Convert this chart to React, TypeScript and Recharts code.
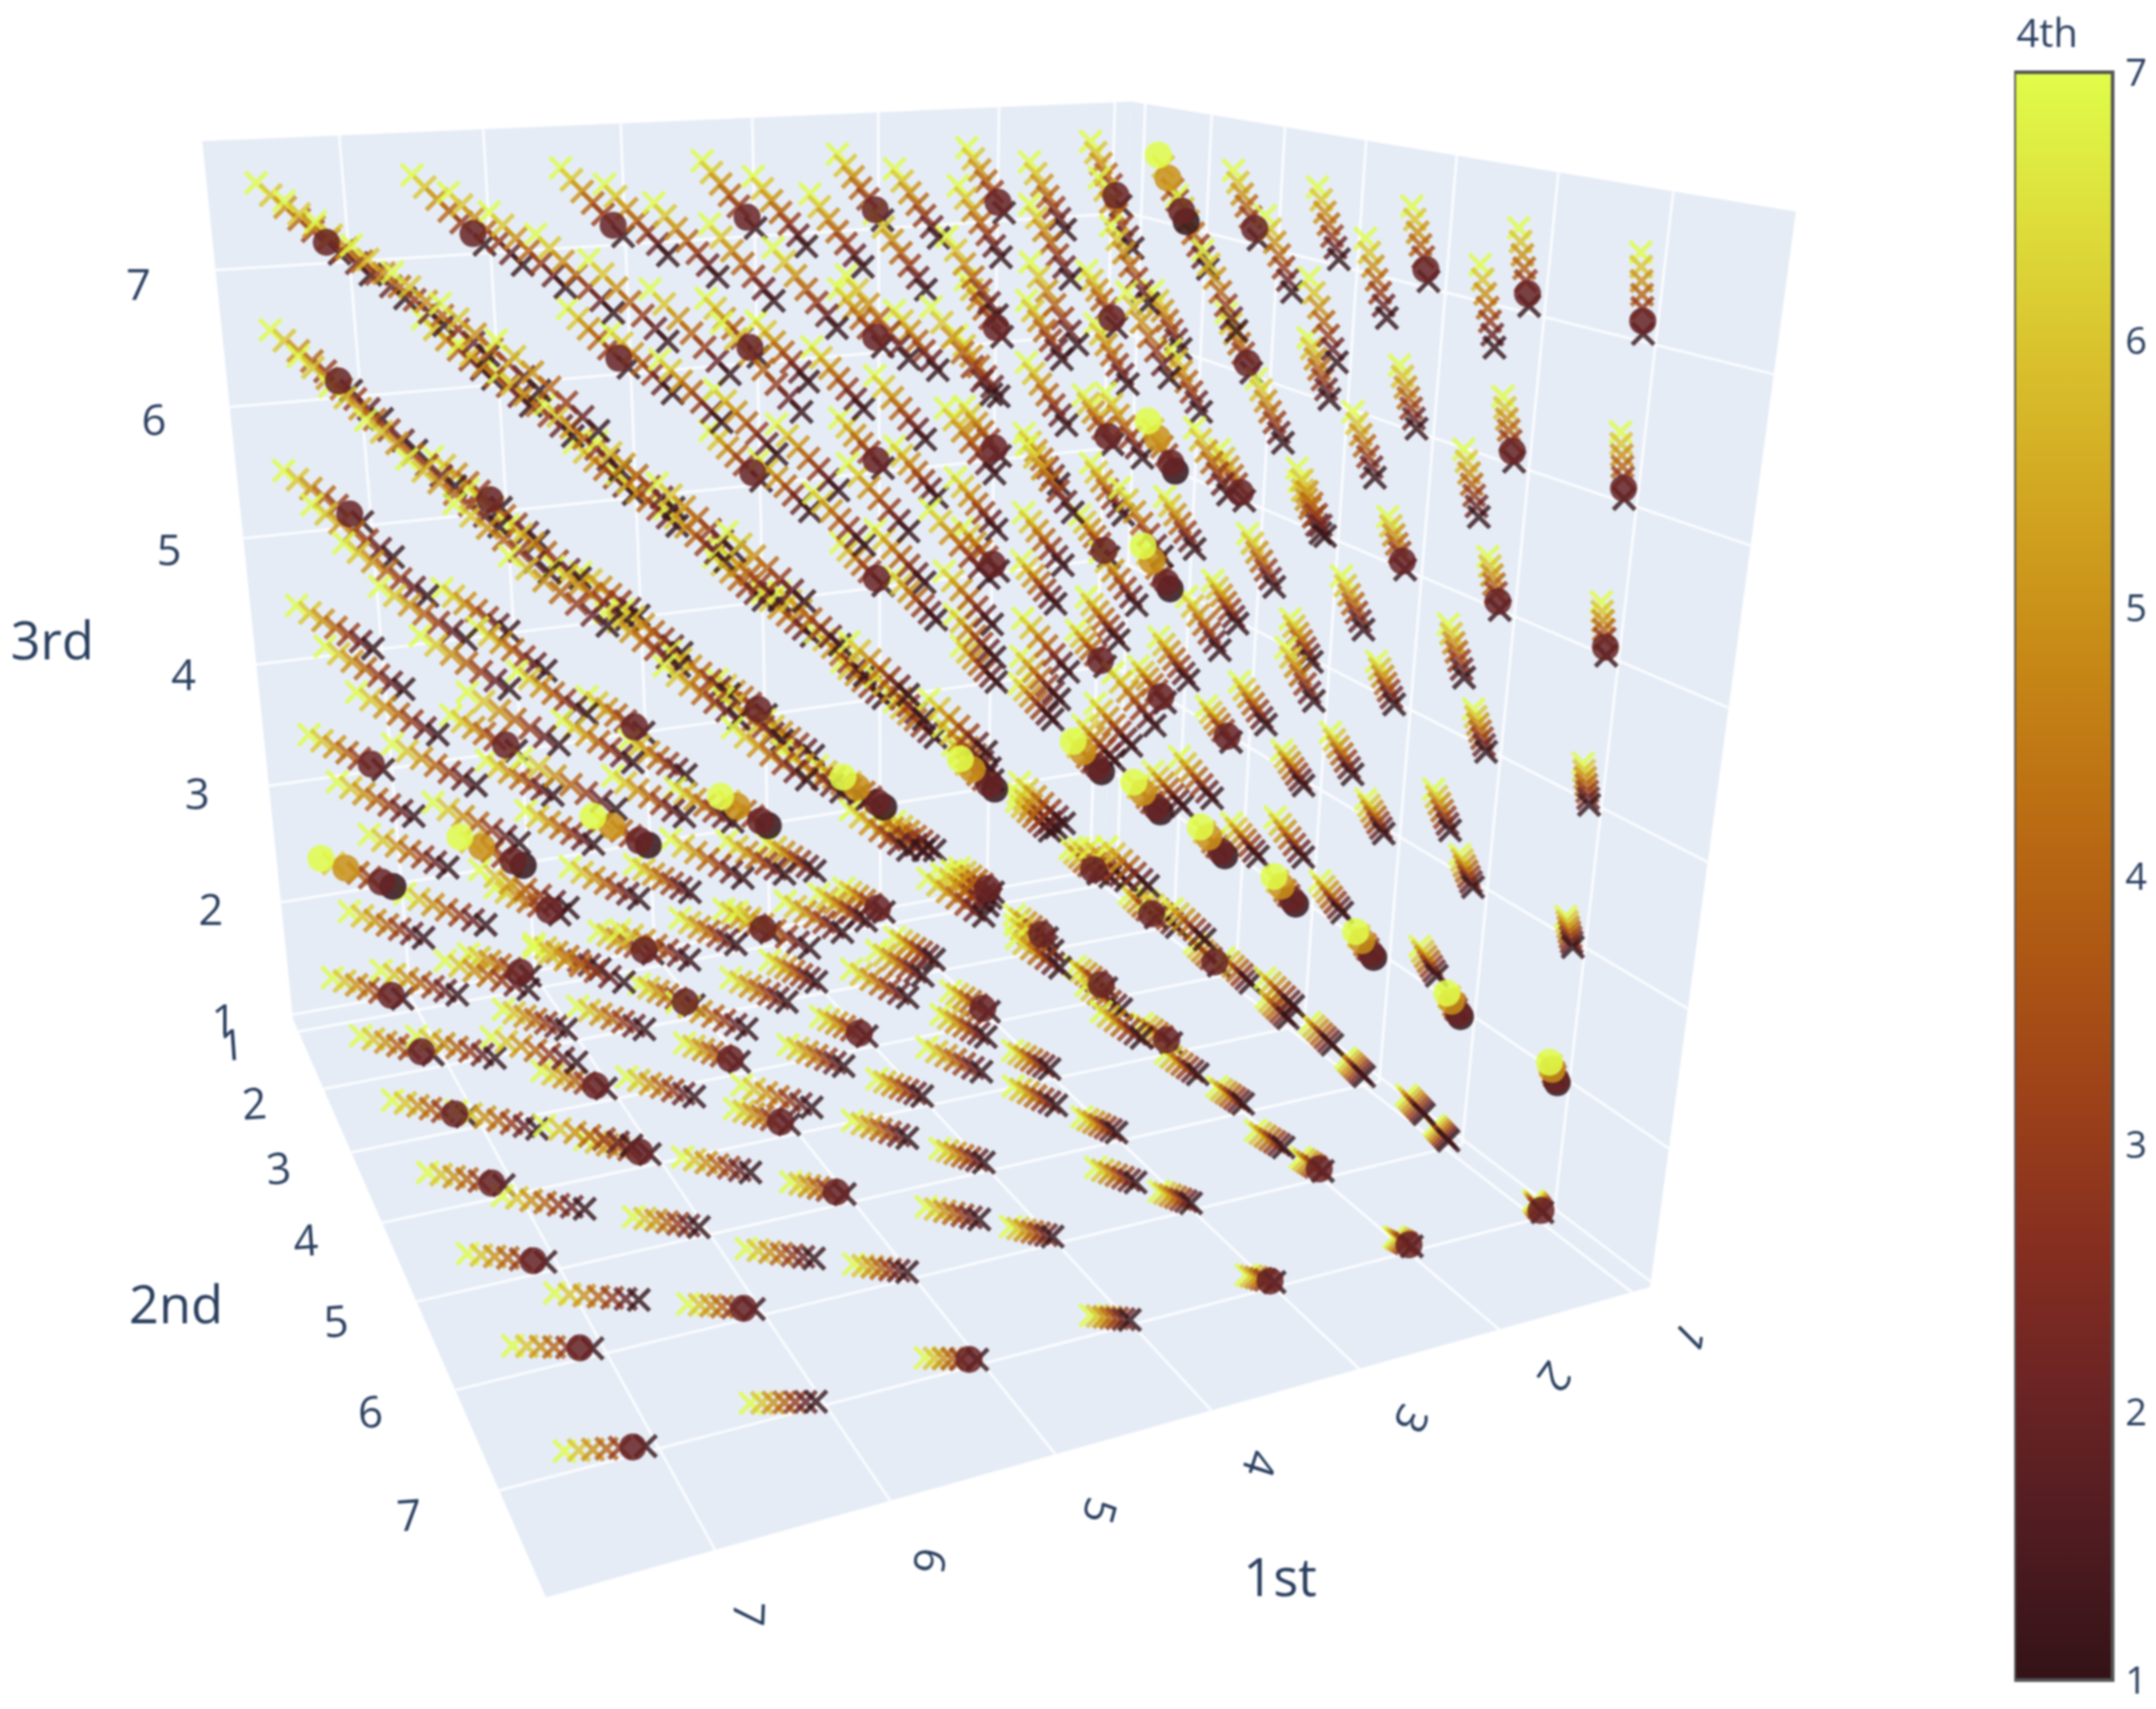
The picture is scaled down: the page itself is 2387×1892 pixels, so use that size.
import { Bar, BarChart, Cell, Scatter, ScatterChart, XAxis, YAxis } from "recharts";

const WIDTH = 2387;
const HEIGHT = 1892;
// the plane is read in 1568x1243 picture units, the axes stretch it to the page
const PLANE_W = 1568;
const PLANE_H = 1243;

const firstValues = [1, 2, 3, 4, 5, 6, 7];
const secondValues = [1, 2, 3, 4, 5, 6, 7];
const thirdValues = [1, 2, 3, 4, 5, 6, 7];
const fourthValues = [7, 6, 5, 4, 3, 2, 1];
const fourthShift = [0.7, 0.6, 0.5, 0.4, 0.3, 0.2, 0.1];
const tickLabels = ["1", "2", "3", "4", "5", "6", "7"];
const firstTickTurn = [135, 125, 115, 108, 105, 100, 92];
const colorbarTicks = [1, 2, 3, 4, 5, 6, 7];

const solar = [
  "#331317", "#4f1c21", "#6c2424", "#872f20", "#9d4219", "#ae5814",
  "#bc6f13", "#c78916", "#d1a420", "#d9c02c", "#dede3b", "#e0fd4a",
];

// rows where the 4th value 2 is a circle
const singleCircles = [
  [1, 1, 7], [2, 1, 7], [3, 1, 7], [4, 1, 7], [5, 1, 7], [6, 1, 7], [7, 1, 7],
  [1, 3, 7], [1, 5, 7], [1, 6, 7], [1, 7, 7],
  [1, 1, 6], [2, 1, 6], [3, 1, 6], [4, 1, 6], [5, 1, 6], [7, 1, 6],
  [1, 3, 6], [1, 6, 6], [1, 7, 6],
  [1, 1, 5], [2, 1, 5], [3, 1, 5], [4, 1, 5], [6, 1, 5], [7, 1, 5],
  [1, 3, 5], [1, 5, 5], [1, 6, 5], [1, 7, 5],
  [1, 1, 4], [2, 1, 4], [3, 1, 4],
  [1, 1, 3], [4, 1, 3], [5, 1, 3], [6, 1, 3], [7, 1, 3], [1, 2, 3], [1, 3, 3],
  [6, 2, 2],
  [1, 1, 1], [2, 1, 1], [3, 1, 1], [4, 1, 1], [5, 1, 1], [6, 1, 1], [7, 1, 1],
  [7, 2, 1], [7, 3, 1], [7, 4, 1], [7, 5, 1], [7, 6, 1], [7, 7, 1],
  [6, 3, 1], [6, 4, 1], [6, 6, 1],
  [5, 2, 1], [5, 3, 1], [5, 4, 1], [5, 5, 1], [5, 7, 1],
  [4, 3, 1], [3, 3, 1], [3, 7, 1],
  [2, 2, 1], [2, 3, 1], [2, 4, 1], [2, 6, 1], [2, 7, 1],
  [1, 2, 1], [1, 3, 1], [1, 7, 1],
];

// rows where the 4th values 7, 5, 2 and 1 are circles
const tripleCircles = [
  [1, 1, 2], [2, 1, 2], [3, 1, 2], [4, 1, 2], [5, 1, 2], [6, 1, 2], [7, 1, 2],
  [1, 2, 2], [1, 3, 2], [1, 4, 2], [1, 5, 2], [1, 6, 2], [1, 7, 2],
  [1, 2, 7], [1, 2, 5], [1, 2, 4],
];
const tripleFourth = [7, 5, 2, 1];

// camera of the 3d scene
function projectUnit(u: number, v: number, w: number) {
  const d = 1 - 0.1263 * u - 0.2943 * v - 0.1143 * w;
  return {
    x: (803 - 616.8 * u + 43.9 * v - 74.5 * w) / d,
    y: (635 + 12.6 * u + 25.6 * v - 569.6 * w) / d,
  };
}
// tick positions on the box
const toU = (first: number) => 0.02 + 0.1418 * (first - 1);
const toV = (second: number) => 0.032 + 0.1395 * (second - 1);
const toW = (third: number) => 0.006 + 0.144 * (third - 1);
// the marks sit a touch off the drawn grid in the source
const project = (a: number, b: number, c: number) =>
  projectUnit(0.02 + 0.1424 * (a - 1), 0.032 + 0.141 * (b - 1), 0.011 + 0.1435 * (c - 1));

function colorAt(value: number) {
  const pos = ((value - 1) / 6) * (solar.length - 1);
  const i = Math.min(Math.floor(pos), solar.length - 2);
  const t = pos - i;
  const rgb = [1, 3, 5].map((k) => {
    const p = parseInt(solar[i].slice(k, k + 2), 16);
    const q = parseInt(solar[i + 1].slice(k, k + 2), 16);
    return Math.round(p + (q - p) * t);
  });
  return `rgb(${rgb.join(",")})`;
}

const has = (list: number[][], a: number, b: number, c: number) =>
  list.some((r) => r[0] === a && r[1] === b && r[2] === c);

const crossPoints: any[] = [];
const circlePoints: any[] = [];
firstValues.forEach((a) =>
  secondValues.forEach((b) =>
    thirdValues.forEach((c) =>
      fourthValues.forEach((d, i) => {
        const s = fourthShift[i];
        const point = { ...project(a + s, b + s, c + s), color: colorAt(d) };
        const triple = has(tripleCircles, a, b, c) && tripleFourth.includes(d);
        const single = has(singleCircles, a, b, c) && d === 2;
        if (triple || single) circlePoints.unshift(point);
        else crossPoints.push(point);
      }),
    ),
  ),
);

const walls = [
  [[0, 0, 0], [1, 0, 0], [1, 1, 0], [0, 1, 0]],
  [[0, 0, 0], [1, 0, 0], [1, 0, 1], [0, 0, 1]],
  [[0, 0, 0], [0, 1, 0], [0, 1, 1], [0, 0, 1]],
].map((corners) => corners.map(([u, v, w]) => projectUnit(u, v, w)));

const gridPoints: any[] = [];
const addSegment = (p: number[], q: number[]) => {
  gridPoints.push(projectUnit(p[0], p[1], p[2]), projectUnit(q[0], q[1], q[2]));
};
firstValues.forEach((a) => {
  addSegment([toU(a), 0, 0], [toU(a), 1, 0]);
  addSegment([toU(a), 0, 0], [toU(a), 0, 1]);
});
secondValues.forEach((b) => {
  addSegment([0, toV(b), 0], [1, toV(b), 0]);
  addSegment([0, toV(b), 0], [0, toV(b), 1]);
});
thirdValues.forEach((c) => {
  addSegment([0, 0, toW(c)], [1, 0, toW(c)]);
  addSegment([0, 0, toW(c)], [0, 1, toW(c)]);
});

const firstTicks = firstValues.map((a, i) => ({
  ...projectUnit(toU(a), 1.075, 0), label: tickLabels[i], turn: firstTickTurn[i],
}));
const secondTicks = secondValues.map((b, i) => ({
  ...projectUnit(1.07, toV(b), 0), label: tickLabels[i], turn: -4,
}));
const thirdTicks = thirdValues.map((c, i) => {
  const p = projectUnit(1.07, -0.07, toW(c));
  return { x: p.x + 5, y: p.y + 14, label: tickLabels[i], turn: 0 };
});
const axisTitles = [
  { x: 931, y: 1146, label: "1st", turn: 0 },
  { x: 128, y: 948, label: "2nd", turn: 0 },
  { x: 38, y: 465, label: "3rd", turn: 0 },
];

const colorbarData = [{ name: "4th", range: [1, 7] }];

const noMark = () => null;

const wallShape = (props: any) => (
  <polygon points={props.points.map((p: any) => `${p.x},${p.y}`).join(" ")} fill="#e5ecf6" stroke="none" />
);

const gridShape = (props: any) => {
  let d = "";
  props.points.forEach((p: any, i: number) => {
    d += `${i % 2 === 0 ? "M" : "L"}${p.x} ${p.y}`;
  });
  return <path d={d} fill="none" stroke="#fbfcfe" strokeWidth={3} />;
};

const CrossMark = (props: any) => {
  const { cx, cy, payload } = props;
  const r = 12;
  return (
    <path
      d={`M${cx - r} ${cy - r}L${cx + r} ${cy + r}M${cx - r} ${cy + r}L${cx + r} ${cy - r}`}
      stroke={payload.color}
      strokeWidth={5}
      strokeOpacity={0.8}
      fill="none"
    />
  );
};

const CircleMark = (props: any) => {
  const { cx, cy, payload } = props;
  return <circle cx={cx} cy={cy} r={15} fill={payload.color} fillOpacity={0.85} />;
};

const TickText = (props: any) => {
  const { cx, cy, payload } = props;
  return (
    <text
      x={cx}
      y={cy}
      transform={`rotate(${payload.turn} ${cx} ${cy})`}
      textAnchor="middle"
      dominantBaseline="central"
      fontFamily="'Open Sans', sans-serif"
      fontSize={48}
      fill="#2a3f5f"
    >
      {payload.label}
    </text>
  );
};

const TitleText = (props: any) => {
  const { cx, cy, payload } = props;
  return (
    <text
      x={cx}
      y={cy}
      textAnchor="middle"
      dominantBaseline="central"
      fontFamily="'Open Sans', sans-serif"
      fontSize={58}
      fill="#2a3f5f"
    >
      {payload.label}
    </text>
  );
};

export default function App() {
  return (
    <div style={{ position: "absolute", left: 0, top: 0, width: WIDTH, height: HEIGHT, background: "#fff", filter: "blur(1px)" }}>
      <div style={{ position: "absolute", left: 0, top: 0 }}>
        <ScatterChart width={WIDTH} height={HEIGHT} margin={{ top: 0, right: 0, bottom: 0, left: 0 }}>
          <XAxis type="number" dataKey="x" domain={[0, PLANE_W]} hide />
          <YAxis type="number" dataKey="y" domain={[0, PLANE_H]} reversed hide />
          {walls.map((wall, i) => (
            <Scatter key={i} data={wall} line={wallShape} shape={noMark} isAnimationActive={false} />
          ))}
          <Scatter data={gridPoints} line={gridShape} shape={noMark} isAnimationActive={false} />
          <Scatter data={crossPoints} shape={CrossMark} isAnimationActive={false} />
          <Scatter data={circlePoints} shape={CircleMark} isAnimationActive={false} />
          <Scatter data={firstTicks} shape={TickText} isAnimationActive={false} />
          <Scatter data={secondTicks} shape={TickText} isAnimationActive={false} />
          <Scatter data={thirdTicks} shape={TickText} isAnimationActive={false} />
          <Scatter data={axisTitles} shape={TitleText} isAnimationActive={false} />
        </ScatterChart>
      </div>
      <div style={{ position: "absolute", left: 2230, top: 0 }}>
        <BarChart
          width={157}
          height={HEIGHT}
          data={colorbarData}
          margin={{ top: 0, right: 0, bottom: 32, left: 0 }}
          barCategoryGap={0}
        >
          <defs>
            <linearGradient id="solarBar" x1="0" y1="1" x2="0" y2="0">
              {solar.map((c, i) => (
                <stop key={c} offset={`${(i / (solar.length - 1)) * 100}%`} stopColor={c} />
              ))}
            </linearGradient>
          </defs>
          <XAxis
            dataKey="name"
            orientation="top"
            height={80}
            axisLine={false}
            tickLine={false}
            tickMargin={22}
            tick={{ fontFamily: "'Open Sans', sans-serif", fontSize: 44, fill: "#2a3f5f", dx: -18 }}
          />
          <YAxis
            type="number"
            orientation="right"
            domain={[1, 7]}
            ticks={colorbarTicks}
            width={48}
            axisLine={false}
            tickLine={false}
            tickMargin={8}
            tick={{ fontFamily: "'Open Sans', sans-serif", fontSize: 42, fill: "#2a3f5f" }}
          />
          <Bar dataKey="range" fill="url(#solarBar)" stroke="#555" strokeWidth={4} isAnimationActive={false}>
            <Cell fill="url(#solarBar)" />
          </Bar>
        </BarChart>
      </div>
    </div>
  );
}
